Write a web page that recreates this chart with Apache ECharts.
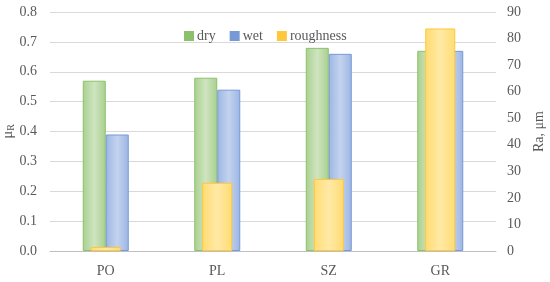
<!DOCTYPE html>
<html>
<head>
<meta charset="utf-8">
<script src="https://cdn.jsdelivr.net/npm/echarts@6/dist/echarts.min.js"></script>
<style>
  html, body { margin: 0; padding: 0; background: #fff; }
  #chart { width: 550px; height: 282px; }
</style>
</head>
<body>
<div id="chart"></div>
<script>
// data
const categories = ['PO', 'PL', 'SZ', 'GR'];
const dry = [0.57, 0.58, 0.68, 0.67];
const wet = [0.39, 0.54, 0.66, 0.67];
const roughness = [1.5, 25.7, 27.1, 83.8];

const FONT = '"Liberation Serif", "DejaVu Serif", serif';

// horizontal gradient: darker edges, lighter middle
const barFill = (edge, mid) => new echarts.graphic.LinearGradient(0, 0, 1, 0, [
    { offset: 0, color: edge },
    { offset: 0.5, color: mid },
    { offset: 1, color: edge }
]);

const chart = echarts.init(document.getElementById('chart'), null, { renderer: 'canvas' });

chart.setOption({
    animation: false,
    textStyle: { fontFamily: FONT },
    legend: {
        top: 24,
        left: 179,
        itemWidth: 8,
        itemHeight: 8,
        itemGap: 14,
        icon: 'rect',
        textStyle: { fontFamily: FONT, fontSize: 14, color: '#595959', padding: [0, 0, 0, -1] },
        data: [
            { name: 'dry', itemStyle: { color: '#8cc16b' } },
            { name: 'wet', itemStyle: { color: '#7799d6' } },
            { name: 'roughness', itemStyle: { color: '#ffc83a' } }
        ]
    },
    grid: { left: 50, right: 54, top: 12, bottom: 31, outerBoundsMode: 'none' },
    xAxis: [{
        type: 'category',
        data: categories,
        axisTick: { show: false },
        axisLine: { lineStyle: { color: '#bfbfbf', width: 1 } },
        axisLabel: { fontFamily: FONT, fontSize: 14, color: '#595959', margin: 13 }
    }, {
        type: 'category',
        data: categories,
        show: false
    }],
    yAxis: [{
        type: 'value',
        min: 0,
        max: 0.8,
        interval: 0.1,
        name: '{m|μ}{s|R}',
        nameLocation: 'middle',
        nameGap: 34,
        nameMoveOverlap: false,
        nameRotate: 90,
        nameTextStyle: {
            rich: {
                m: { fontFamily: FONT, fontSize: 15, color: '#595959' },
                s: { fontFamily: FONT, fontSize: 10, color: '#595959', padding: [6, 0, 0, 0] }
            }
        },
        axisLine: { show: false },
        axisTick: { show: false },
        splitLine: { lineStyle: { color: '#d9d9d9', width: 1 } },
        axisLabel: {
            fontFamily: FONT, fontSize: 14, color: '#595959', margin: 13,
            formatter: v => v.toFixed(1)
        }
    }, {
        type: 'value',
        min: 0,
        max: 90,
        interval: 10,
        name: 'Ra, μm',
        nameLocation: 'middle',
        nameGap: 35,
        nameRotate: 90,
        nameTextStyle: { fontFamily: FONT, fontSize: 14, color: '#595959' },
        axisLine: { show: false },
        axisTick: { show: false },
        splitLine: { show: false },
        axisLabel: { fontFamily: FONT, fontSize: 14, color: '#595959', margin: 11 }
    }],
    series: [{
        name: 'dry',
        type: 'bar',
        xAxisIndex: 0,
        yAxisIndex: 0,
        barWidth: 23,
        barGap: '0%',
        data: dry,
        itemStyle: {
            color: barFill('#a9d08e', '#cfe4c1'),
            borderColor: '#8cc16b',
            borderWidth: 1
        }
    }, {
        name: 'wet',
        type: 'bar',
        xAxisIndex: 0,
        yAxisIndex: 0,
        barWidth: 23,
        barGap: '0%',
        data: wet,
        itemStyle: {
            color: barFill('#9cb6e3', '#c3d3ee'),
            borderColor: '#7799d6',
            borderWidth: 1
        }
    }, {
        name: 'roughness',
        type: 'bar',
        xAxisIndex: 1,
        yAxisIndex: 1,
        barWidth: 30,
        z: 3,
        data: roughness,
        itemStyle: {
            color: barFill('#ffdc72', '#ffe9a6'),
            borderColor: '#ffc83a',
            borderWidth: 1
        }
    }]
});
</script>
</body>
</html>
